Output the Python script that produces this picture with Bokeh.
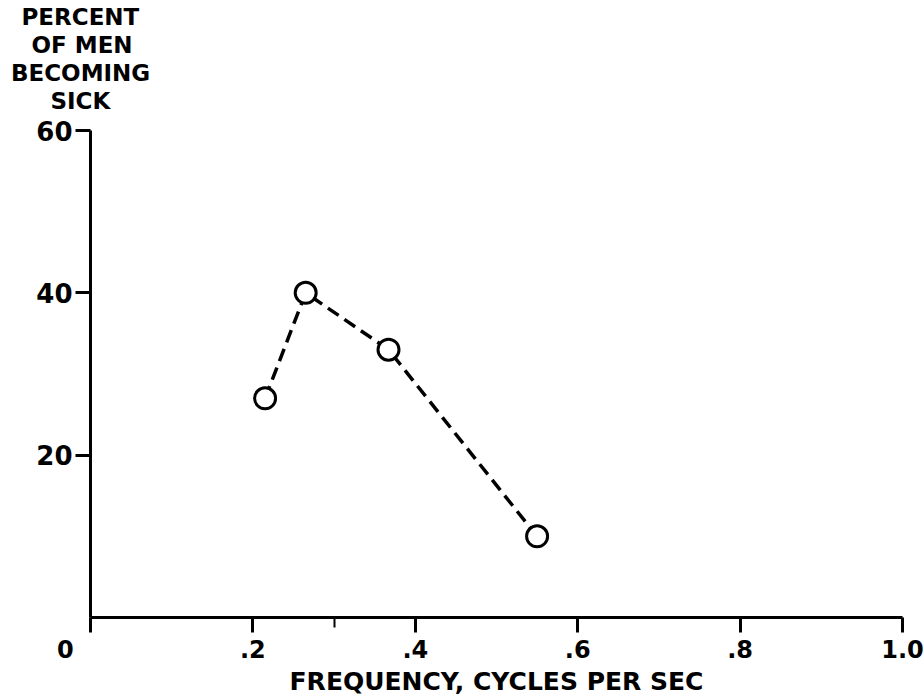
from bokeh.plotting import figure
from bokeh.models import Range1d, FixedTicker, Title
from bokeh.embed import file_html
from bokeh.resources import INLINE

# data
freq = [0.215, 0.265, 0.367, 0.55]      # cycles per sec
pct_sick = [27, 40, 33, 10]             # percent of men becoming sick

x_ticks = [0, 0.2, 0.4, 0.6, 0.8, 1.0]
x_tick_labels = ["0" + "\u00a0" * 6, ".2", ".4", ".6", ".8", "1.0"]
x_minor = [0.3]
y_ticks = [20, 40, 60]
y_title_lines = ["PERCENT", "OF MEN", "BECOMING", "SICK"]
x_title = "FREQUENCY, CYCLES PER SEC"

FONT = "DejaVu Sans"

p = figure(width=924, height=698, output_backend="svg", toolbar_location=None,
           x_range=Range1d(0, 1.0), y_range=Range1d(0, 60),
           min_border_left=90, min_border_right=22,
           min_border_top=130, min_border_bottom=81)
p.outline_line_color = None
p.xgrid.visible = False
p.ygrid.visible = False
p.background_fill_color = "white"
p.border_fill_color = "white"

# x axis
xa = p.xaxis[0]
xa.ticker = FixedTicker(ticks=x_ticks, minor_ticks=x_minor)
xa.major_label_overrides = {t: l for t, l in zip(x_ticks, x_tick_labels)}
xa.axis_line_width = 3
xa.major_tick_line_width = 3
xa.minor_tick_line_width = 2
xa.major_tick_in = 0
xa.major_tick_out = 15
xa.minor_tick_in = 0
xa.minor_tick_out = 10
xa.major_label_standoff = 3
xa.major_label_text_font = FONT
xa.major_label_text_font_style = "bold"
xa.major_label_text_font_size = "24px"
xa.major_label_text_color = "black"
xa.axis_label = x_title
xa.axis_label_standoff = 0
xa.axis_label_text_font = FONT
xa.axis_label_text_font_style = "bold"
xa.axis_label_text_font_size = "25px"
xa.axis_label_text_color = "black"

# y axis
ya = p.yaxis[0]
ya.ticker = FixedTicker(ticks=y_ticks, minor_ticks=[])
ya.axis_line_width = 3
ya.major_tick_line_width = 3
ya.major_tick_in = 0
ya.major_tick_out = 15
ya.major_label_standoff = 3
ya.major_label_text_font = FONT
ya.major_label_text_font_style = "bold"
ya.major_label_text_font_size = "26px"
ya.major_label_text_color = "black"

# data: dashed line then open circles
p.line(freq, pct_sick, line_color="black", line_width=3.5, line_dash="13 7")
p.scatter(freq, pct_sick, marker="circle", size=21, fill_color="white",
          line_color="black", line_width=3)

# spacer between the frame and the stacked y title
p.add_layout(Title(text=" ", text_font_size="1px", standoff=14), "above")

# stacked y title above the frame (first added is closest to the frame)
title_offsets = {"SICK": -40, "BECOMING": -79.5, "OF MEN": -59, "PERCENT": -69}
for line in reversed(y_title_lines):
    p.add_layout(Title(text=line, align="left", offset=title_offsets[line],
                       standoff=0,
                       text_font=FONT, text_font_style="bold",
                       text_font_size="23px", text_color="black"), "above")

open("out.html", "w").write(file_html(p, INLINE))
